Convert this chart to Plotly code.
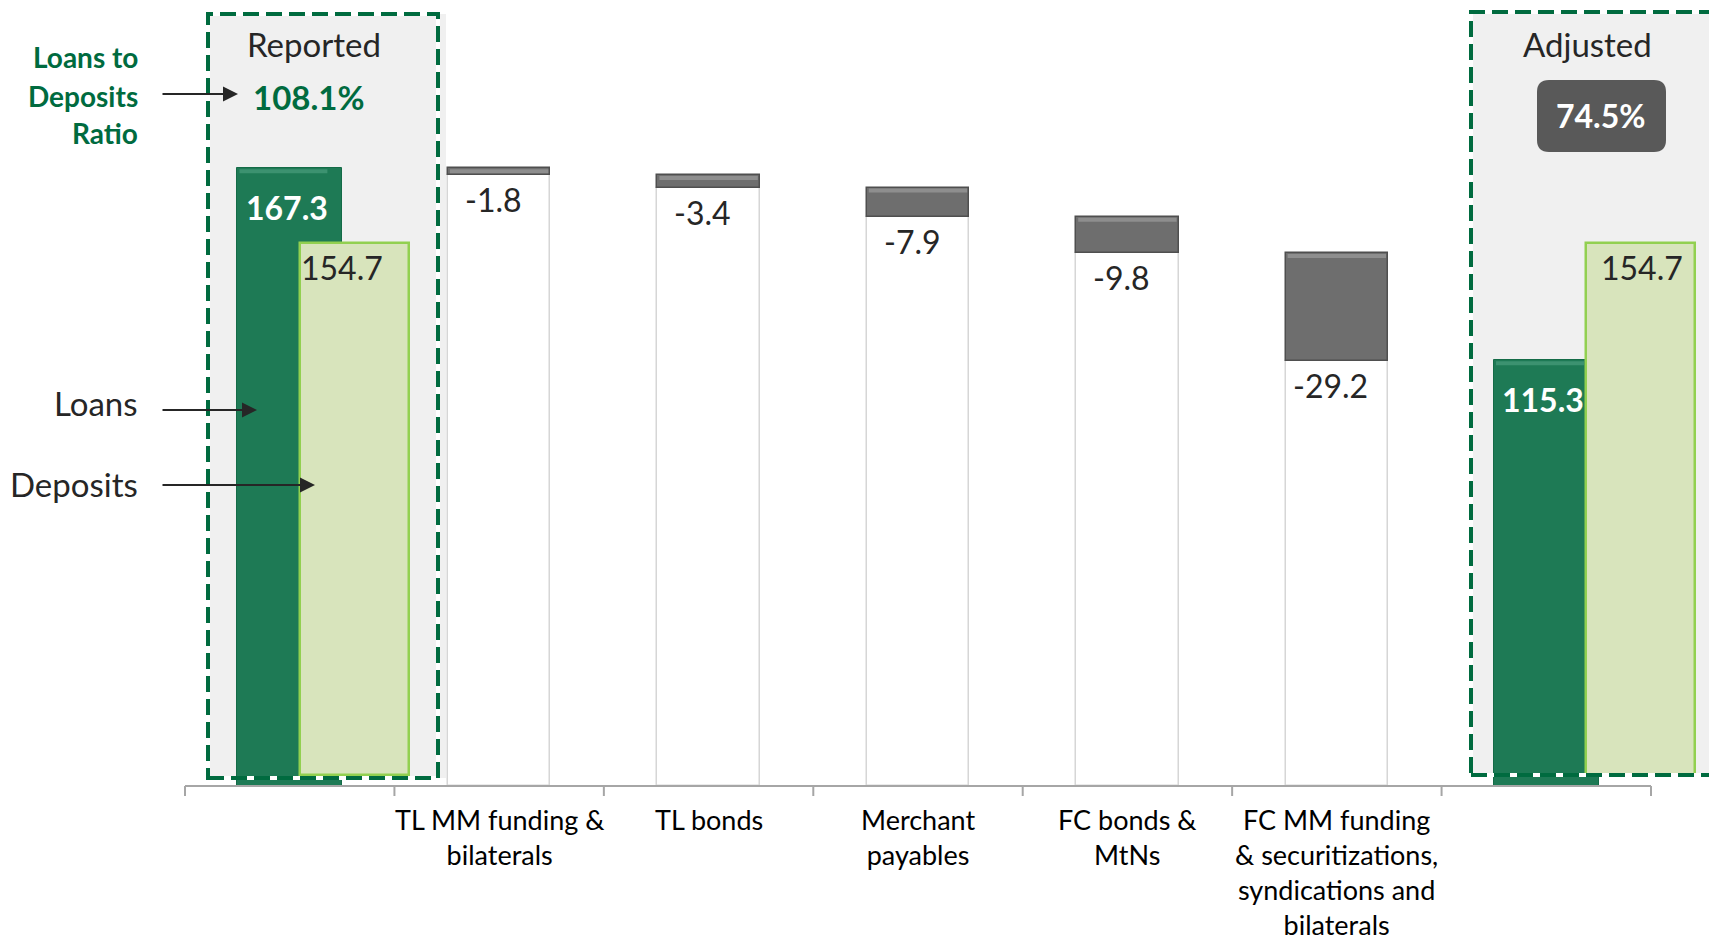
import plotly.graph_objects as go

# ---- data -------------------------------------------------------------
categories = ["Reported", "TL MM funding & bilaterals", "TL bonds", "Merchant payables",
              "FC bonds & MtNs", "FC MM funding & securitizations, syndications and bilaterals",
              "Adjusted"]
tick_labels = ["", "TL MM funding &<br>bilaterals", "TL bonds", "Merchant<br>payables",
               "FC bonds &<br>MtNs", "FC MM funding<br>& securitizations,<br>syndications and<br>bilaterals", ""]
loans = [167.3, 115.3]        # Reported, Adjusted
deposits = [154.7, 154.7]     # Reported, Adjusted
adjustments = [-1.8, -3.4, -7.9, -9.8, -29.2]

# ---- canvas geometry ----------------------------------------------------
W, H = 1709, 943
FONT = "Lato"
GREEN = "#006b3f"
DARK = "#262626"


def pxx(x):
    return x / W


def pxy(y):
    return 1 - y / H


# primary axes: category i centred, y=0 on the baseline
x_unit = (1651 - 185) / 7.0
x_range = [-0.5 - 185 / x_unit, 6.5 + (W - 1651) / x_unit]
y_unit = 3.692
y_range = [-(H - 786) / y_unit, 786 / y_unit]
# secondary axes used by the deposits series
x2_unit = (1640.5 - 354.5) / 6.0
x2_range = [-354.5 / x2_unit, (W - 354.5) / x2_unit]
y2_unit = 3.437
y2_range = [-(H - 775) / y2_unit, 775 / y2_unit]

# waterfall levels
level = loans[0]
bottoms = []
for d in adjustments:
    level += d
    bottoms.append(level)
tops = [b - d for b, d in zip(bottoms, adjustments)]
steps_x = list(range(1, 1 + len(adjustments)))
end_x = len(categories) - 1

fig = go.Figure()

# white pillars under each step
fig.add_trace(go.Bar(
    x=steps_x, y=bottoms, width=0.49,
    marker=dict(color="white", line=dict(color="#d6d6d6", width=1.5)),
    xaxis="x", yaxis="y", hoverinfo="skip", showlegend=False))
# grey decrease blocks
fig.add_trace(go.Bar(
    x=steps_x, y=[-d for d in adjustments], base=bottoms, width=0.49,
    marker=dict(color="#6e6e6e", line=dict(color="#4f4f4f", width=1.5)),
    xaxis="x", yaxis="y", showlegend=False))
# loans
fig.add_trace(go.Bar(
    x=[0, end_x], y=loans, width=0.5,
    marker=dict(color="#1e7a55", line=dict(color="#146b47", width=1)),
    xaxis="x", yaxis="y", showlegend=False))
# deposits (own axes, drawn on top)
fig.add_trace(go.Bar(
    x=[0, 6], y=deposits, width=0.51,
    marker=dict(color="#d8e4bc", line=dict(color="#92d050", width=2.5)),
    xaxis="x2", yaxis="y2", showlegend=False))

shapes = []
# shaded panels behind Reported / Adjusted
shapes.append(dict(type="rect", xref="paper", yref="paper", layer="below",
                   x0=pxx(208), x1=pxx(446), y0=pxy(778), y1=pxy(14),
                   fillcolor="#f0f0f0", line=dict(width=0)))
shapes.append(dict(type="rect", xref="paper", yref="paper", layer="below",
                   x0=pxx(1471), x1=pxx(W + 10), y0=pxy(775), y1=pxy(12),
                   fillcolor="#f0f0f0", line=dict(width=0)))

# bevel highlights along the top edge of the grey blocks and the loan bars
for xi, t in zip(steps_x, tops):
    shapes.append(dict(type="rect", xref="x", yref="y", ysizemode="pixel", yanchor=t,
                       x0=xi - 0.235, x1=xi + 0.235, y0=-5, y1=-1,
                       fillcolor="#8e8e8e", line=dict(width=0), layer="above"))
for xi, v in zip([0, end_x], loans):
    shapes.append(dict(type="rect", xref="x", yref="y", ysizemode="pixel", yanchor=v,
                       x0=xi - 0.24, x1=xi + 0.18, y0=-5, y1=-1,
                       fillcolor="#3c9270", line=dict(width=0), layer="above"))

# baseline axis with category dividers
shapes.append(dict(type="line", xref="x", yref="y", x0=-0.5, x1=6.5, y0=0, y1=0,
                   line=dict(color="#a6a6a6", width=2), layer="above"))
for i in range(len(categories) + 1):
    shapes.append(dict(type="line", xref="x", yref="paper", x0=i - 0.5, x1=i - 0.5,
                       y0=pxy(786), y1=pxy(796), line=dict(color="#a6a6a6", width=2)))
# dashed frames
for (l, r, t, b) in [(208, 438, 14, 778), (1471, W + 20, 12, 775)]:
    shapes.append(dict(type="rect", xref="paper", yref="paper", layer="above",
                       x0=pxx(l), x1=pxx(r), y0=pxy(b), y1=pxy(t),
                       line=dict(color="white", width=4)))
    shapes.append(dict(type="rect", xref="paper", yref="paper", layer="above",
                       x0=pxx(l), x1=pxx(r), y0=pxy(b), y1=pxy(t),
                       line=dict(color=GREEN, width=4, dash="16px,7px")))


def rounded_rect(l, t, r, b, rad):
    pts = [
        f"M {pxx(l + rad)},{pxy(t)}",
        f"L {pxx(r - rad)},{pxy(t)}",
        f"Q {pxx(r)},{pxy(t)} {pxx(r)},{pxy(t + rad)}",
        f"L {pxx(r)},{pxy(b - rad)}",
        f"Q {pxx(r)},{pxy(b)} {pxx(r - rad)},{pxy(b)}",
        f"L {pxx(l + rad)},{pxy(b)}",
        f"Q {pxx(l)},{pxy(b)} {pxx(l)},{pxy(b - rad)}",
        f"L {pxx(l)},{pxy(t + rad)}",
        f"Q {pxx(l)},{pxy(t)} {pxx(l + rad)},{pxy(t)}",
        "Z",
    ]
    return " ".join(pts)


shapes.append(dict(type="path", xref="paper", yref="paper", layer="above",
                   path=rounded_rect(1537, 80, 1666, 152, 12),
                   fillcolor="#595959", line=dict(width=0)))

ann = []


def text(x, y, s, size, color=DARK, bold=False, xanchor="center", **kw):
    ann.append(dict(x=pxx(x), y=pxy(y), xref="paper", yref="paper",
                    text=f"<b>{s}</b>" if bold else s, showarrow=False,
                    xanchor=xanchor, yanchor="middle",
                    font=dict(family=FONT, size=size, color=color), **kw))


def arrow(x_tail, x_head, y):
    ann.append(dict(x=pxx(x_head), y=pxy(y), xref="paper", yref="paper",
                    ax=-(x_head - x_tail), ay=0, text="", showarrow=True,
                    arrowhead=2, arrowsize=1.5, arrowwidth=2, arrowcolor=DARK,
                    standoff=0))


ratio_rep = loans[0] / deposits[0] * 100
ratio_adj = loans[1] / deposits[1] * 100

text(314, 44, "Reported", 33)
text(1587, 44, "Adjusted", 33)
text(308, 97, f"{ratio_rep:.1f}%", 33, GREEN, bold=True)
text(1601, 116, f"{ratio_adj:.1f}%", 32, "white", bold=True)

text(140, 57, "Loans to", 28, GREEN, bold=True, xanchor="right")
text(140, 96, "Deposits", 28, GREEN, bold=True, xanchor="right")
text(140, 133, "Ratio", 28, GREEN, bold=True, xanchor="right")
text(140, 403, "Loans", 33, xanchor="right")
text(140, 484, "Deposits", 33, xanchor="right")
arrow(161, 238, 94)
arrow(161, 257, 410)
arrow(161, 315, 485)

# value labels
for xi, v in zip([0, end_x], loans):
    ann.append(dict(x=xi, y=v, xref="x", yref="y", text=f"<b>{v:.1f}</b>",
                    showarrow=False, xanchor="center", yanchor="middle",
                    xshift=-3, yshift=-39,
                    font=dict(family=FONT, size=32, color="white")))
for xi, v, dx in zip([0, 6], deposits, [-13, 1]):
    ann.append(dict(x=xi, y=v, xref="x2", yref="y2", text=f"{v:.1f}",
                    showarrow=False, xanchor="center", yanchor="middle",
                    xshift=dx, yshift=-24,
                    font=dict(family=FONT, size=32, color=DARK)))
for xi, b, d in zip(steps_x, bottoms, adjustments):
    ann.append(dict(x=xi, y=b, xref="x", yref="y", text=f"{d:.1f}",
                    showarrow=False, xanchor="center", yanchor="middle",
                    xshift=-6, yshift=-25,
                    font=dict(family=FONT, size=32, color=DARK)))
# category labels
for xi, lab in enumerate(tick_labels):
    if lab:
        ann.append(dict(x=xi, y=0, xref="x", yref="y", text=lab, showarrow=False,
                        xanchor="center", yanchor="top", yshift=-15,
                        font=dict(family=FONT, size=27, color="black")))

axis_off = dict(visible=False, showgrid=False, zeroline=False, fixedrange=True)
fig.update_layout(
    width=W, height=H,
    margin=dict(l=0, r=0, t=0, b=0),
    paper_bgcolor="white", plot_bgcolor="rgba(0,0,0,0)",
    barmode="overlay", bargap=0,
    xaxis=dict(range=x_range, **axis_off),
    yaxis=dict(range=y_range, **axis_off),
    xaxis2=dict(range=x2_range, overlaying="x", **axis_off),
    yaxis2=dict(range=y2_range, overlaying="y", **axis_off),
    shapes=shapes, annotations=ann,
    showlegend=False,
)

fig.write_html("out.html")
